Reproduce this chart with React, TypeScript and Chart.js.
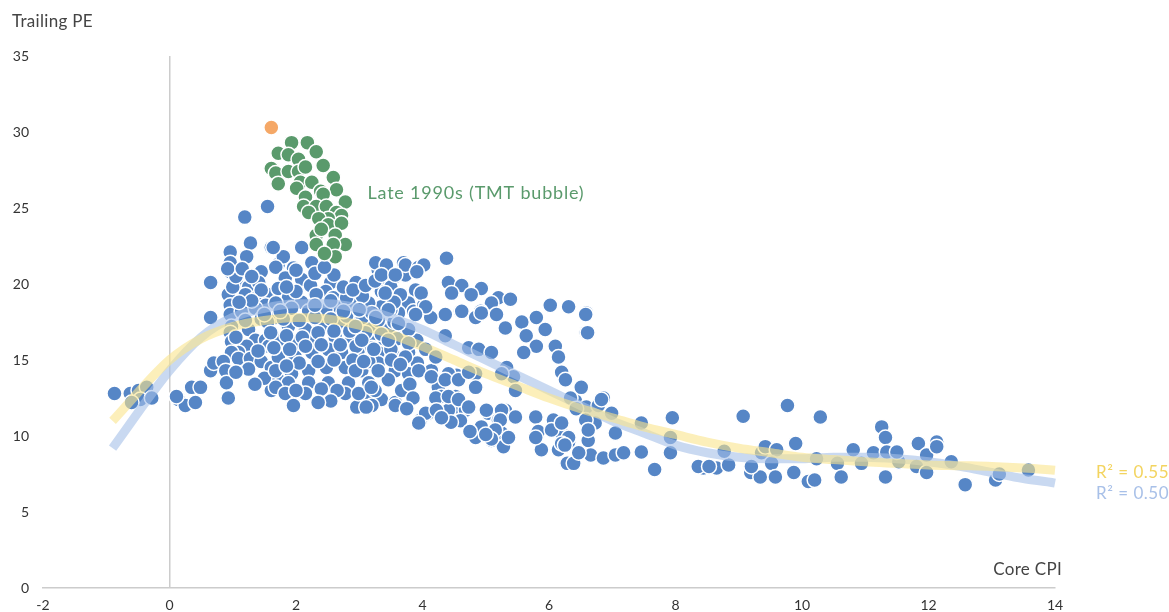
import React, { useEffect, useRef } from "react";
import { Chart, registerables } from "chart.js";

Chart.register(...registerables);

// ---- Data: [Core CPI, Trailing PE] ----
const blueLowCpi: number[][] = [
  [-0.87, 12.8], [-0.62, 12.8], [-0.49, 13.0], [-0.36, 13.2], [-0.46, 12.4], [-0.28, 12.5], [-0.6, 12.2],
  [0.14, 12.4], [0.25, 12.0], [0.41, 12.2], [0.35, 13.2], [0.49, 13.2], [0.11, 12.6], [0.65, 14.3],
  [0.7, 14.8], [0.65, 17.8], [0.65, 20.1],
];

const blueEarly: number[][] = [
  [0.96, 22.1], [1.28, 22.7], [1.61, 22.4], [0.96, 21.4], [1.22, 21.8], [0.96, 20.8], [1.45, 20.8],
  [1.72, 21.3], [1.09, 19.9], [1.25, 19.8], [1.41, 20.1], [1.2, 19.3], [1.38, 19.1], [0.93, 19.3],
  [0.96, 18.6], [1.57, 19.3], [1.52, 18.6], [0.96, 18.0], [1.14, 18.2], [1.36, 18.4], [0.98, 17.2],
  [0.96, 16.8], [1.25, 17.0], [1.36, 16.3], [0.98, 16.2], [1.52, 16.3], [1.22, 15.9], [1.57, 15.9],
  [1.09, 15.5], [0.98, 15.5], [0.85, 14.9], [0.89, 14.3], [1.09, 15.1], [1.28, 15.1], [1.45, 14.9],
  [1.61, 14.5], [1.72, 13.7], [0.9, 13.5], [0.93, 12.5], [1.61, 13.0], [1.19, 24.4], [1.55, 25.1],
  [1.0, 19.8], [1.05, 20.5], [0.92, 21.0], [1.15, 21.0], [1.3, 20.5], [1.45, 19.6], [1.3, 18.9],
  [1.1, 18.8], [1.45, 17.7], [1.2, 17.6], [1.05, 16.5], [1.4, 15.6], [1.25, 14.4], [1.05, 14.2],
  [1.5, 13.8], [1.35, 13.4],
];

const blueCore: number[][] = [
  [2.09, 22.4], [1.8, 21.8], [1.64, 22.4], [2.25, 21.4], [1.96, 21.05], [1.68, 21.1], [1.83, 20.4],
  [2.09, 20.3], [2.23, 19.9], [2.55, 20.1], [2.47, 19.5], [2.32, 19.3], [2.59, 19.1], [1.72, 19.7],
  [1.88, 19.1], [2.09, 18.8], [1.68, 18.75], [3.3, 20.9], [3.26, 21.4], [3.43, 21.25], [3.7, 21.4],
  [3.54, 20.4], [3.38, 20.1], [3.35, 19.5], [3.41, 18.9], [3.73, 20.6], [3.89, 19.6], [3.78, 18.75],
  [3.62, 18.1], [3.35, 18.5], [3.15, 18.75], [2.91, 18.6], [2.67, 18.5], [2.47, 18.3], [2.2, 18.2],
  [1.93, 18.4], [1.68, 17.8], [1.88, 17.2], [2.15, 17.0], [2.4, 17.2], [2.67, 17.4], [2.94, 17.4],
  [3.19, 17.3], [3.46, 17.0], [3.73, 16.8], [1.72, 16.3], [1.99, 16.1], [2.31, 16.3], [2.62, 16.5],
  [2.88, 16.5], [3.15, 16.3], [3.41, 16.1], [3.78, 15.5], [3.57, 15.2], [3.3, 15.5], [2.99, 15.7],
  [2.72, 15.5], [2.51, 15.7], [2.25, 15.5], [1.99, 15.2], [1.72, 15.2], [1.68, 14.3], [1.93, 14.1],
  [2.2, 14.3], [2.48, 14.5], [2.78, 14.5], [3.04, 14.3], [3.3, 14.8], [3.57, 14.3], [3.46, 13.7],
  [3.15, 13.5], [2.83, 13.5], [2.51, 13.5], [2.2, 13.5], [1.88, 13.5], [1.68, 13.2], [1.83, 12.8],
  [2.15, 12.8], [2.78, 12.8], [3.1, 12.6], [3.35, 12.4], [3.57, 12.2], [1.96, 12.0], [2.96, 11.9],
  [3.91, 16.3], [3.92, 14.8],
  [1.55, 17.5], [1.8, 17.7], [2.05, 17.6], [2.3, 17.8], [2.55, 17.7], [2.8, 17.9], [3.05, 17.8],
  [3.3, 17.6], [3.55, 17.5], [1.6, 16.8], [1.85, 16.6], [2.1, 16.5], [2.35, 16.8], [2.6, 16.9],
  [2.85, 16.9], [3.1, 16.8], [3.35, 16.7], [3.6, 16.4], [1.65, 15.8], [1.9, 15.7], [2.15, 15.9],
  [2.4, 16.0], [2.7, 16.0], [2.95, 15.9], [3.2, 15.8], [3.5, 15.7], [2.05, 14.8], [2.35, 14.9],
  [2.6, 15.0], [2.9, 15.0], [3.15, 14.9], [1.85, 14.6], [2.0, 19.5], [2.3, 18.6], [2.55, 18.9],
  [2.8, 19.1], [3.05, 19.2], [2.75, 19.8], [2.95, 20.1], [1.5, 18.0], [1.75, 18.2], [2.0, 13.0],
  [2.4, 13.1], [2.65, 13.0], [3.25, 13.0], [2.55, 12.3], [2.35, 12.2], [3.2, 12.0], [3.5, 18.3],
  [3.2, 18.1],
  [2.9, 19.6], [3.1, 19.9], [3.25, 20.2], [3.5, 19.8], [3.65, 19.3], [3.55, 18.8], [3.0, 18.3],
  [2.75, 18.2], [2.3, 20.7], [2.6, 20.6], [2.0, 20.9], [1.85, 19.8], [2.45, 21.1],
];

const blueMid: number[][] = [
  [4.38, 21.7], [3.73, 21.25], [3.94, 21.1], [4.41, 20.1], [4.62, 19.9], [4.46, 19.4], [4.93, 19.7],
  [4.77, 19.3], [5.2, 19.1], [5.39, 19.0], [5.09, 18.75], [4.6, 18.2], [4.92, 18.2], [4.36, 18.0],
  [4.84, 17.8], [5.17, 18.0], [5.31, 17.1], [4.13, 17.8], [3.86, 18.2], [4.02, 18.6], [3.98, 19.4],
  [6.02, 18.6], [6.31, 18.5], [6.59, 18.1], [6.59, 16.8], [5.8, 17.8], [5.57, 17.5], [5.64, 16.6],
  [5.94, 17.0], [6.1, 15.9], [5.8, 15.9], [5.6, 15.5], [6.15, 15.2], [6.2, 14.2], [6.26, 13.7],
  [4.36, 16.6], [4.73, 15.8], [4.89, 15.7], [5.09, 15.5], [5.33, 14.5], [5.44, 13.9], [5.25, 14.1],
  [4.84, 14.1], [4.54, 14.0], [4.41, 14.1], [4.25, 13.2], [4.14, 14.3], [3.78, 14.1], [3.67, 13.0],
  [4.52, 12.6], [4.57, 11.9], [4.68, 11.7], [4.41, 11.7], [4.3, 12.6], [4.09, 11.5], [3.97, 11.05],
  [4.21, 12.5], [5.04, 11.5], [5.31, 11.7], [5.2, 11.05], [4.84, 9.9], [5.09, 9.7], [5.25, 10.2],
  [5.28, 9.3], [4.93, 10.6], [5.79, 11.25], [5.83, 10.2], [5.88, 9.1], [6.07, 11.05], [6.2, 10.2],
  [6.31, 9.6], [6.42, 12.3], [6.15, 9.1],
  [4.02, 21.25], [3.35, 20.6], [3.57, 20.6], [3.91, 20.8], [3.41, 19.4], [4.05, 18.5], [3.89, 18.0],
  [4.62, 18.2], [4.93, 18.1], [3.78, 17.0], [3.62, 17.4], [3.46, 18.3], [3.26, 17.8], [2.94, 17.2],
  [3.04, 16.3], [3.23, 15.7], [3.46, 16.3], [3.78, 16.1], [3.51, 15.0], [3.73, 15.2], [4.05, 15.7],
  [4.21, 15.2], [3.94, 14.3], [4.14, 13.9], [4.36, 13.7], [4.57, 13.7], [4.41, 12.6], [4.57, 12.4],
  [4.73, 11.9], [4.05, 11.5], [4.22, 11.7], [3.94, 10.85], [2.99, 12.8], [3.19, 13.2], [3.57, 12.0],
  [2.94, 14.3], [3.07, 14.9], [3.3, 14.3], [3.11, 11.9], [4.73, 14.2], [4.84, 13.2], [5.01, 11.7],
  [5.25, 11.7], [5.47, 13.0], [5.83, 10.3], [6.04, 10.4], [6.2, 10.85], [6.31, 9.9], [6.2, 9.5],
  [5.23, 11.05], [5.47, 11.25], [5.79, 9.9], [5.15, 10.4], [5.36, 9.9], [5.09, 9.8],
  [3.8, 13.4], [3.65, 14.7], [3.85, 12.5], [3.75, 11.8], [4.6, 11.0], [4.45, 10.9], [4.3, 11.2],
  [4.75, 10.3], [5.0, 10.1],
];

const blueHigh: number[][] = [
  [6.58, 18.0], [6.61, 16.8], [6.51, 13.2], [6.86, 12.5], [6.59, 11.9], [6.73, 10.85], [7.05, 10.2],
  [7.46, 10.85], [7.95, 11.2], [7.92, 9.9], [7.92, 8.9], [7.46, 8.95], [7.67, 7.8], [6.62, 9.7],
  [6.66, 8.75], [6.86, 8.55], [7.05, 8.75], [7.18, 8.9], [6.29, 8.2], [6.39, 8.2], [6.34, 12.5],
  [6.43, 11.8], [6.78, 12.0], [6.25, 9.4], [6.47, 8.9], [6.58, 11.05], [6.62, 10.4], [6.83, 12.4],
  [6.99, 11.5],
  [9.07, 11.3], [9.77, 12.0], [10.29, 11.25], [8.44, 7.9], [8.65, 7.9], [8.84, 8.1], [8.77, 9.0],
  [9.19, 7.6], [9.36, 8.9], [9.42, 9.3], [9.6, 9.1], [9.52, 8.2], [9.34, 7.3], [9.58, 7.3], [9.9, 9.5],
  [9.87, 7.6], [10.1, 7.0], [10.2, 7.1], [10.23, 8.5], [10.56, 8.2], [10.62, 7.3], [10.81, 9.1],
  [10.94, 8.2], [11.13, 8.9], [11.26, 10.6], [11.32, 9.9], [11.34, 8.95], [11.32, 7.3], [11.53, 8.3],
  [11.5, 8.95], [11.84, 9.5], [11.81, 8.0], [11.97, 7.6], [11.97, 8.75], [12.13, 9.6], [12.13, 9.3],
  [12.36, 8.3], [12.58, 6.8], [13.06, 7.1], [13.12, 7.5], [13.58, 7.76], [8.36, 8.0], [8.53, 8.0],
  [9.2, 8.0],
];

const greenBubble: number[][] = [
  [1.93, 29.3], [2.18, 29.3], [2.32, 28.7], [1.72, 28.6], [1.88, 28.5], [2.04, 28.2], [2.43, 27.8],
  [1.61, 27.6], [1.68, 27.3], [1.88, 27.4], [2.04, 27.4], [2.15, 27.7], [1.72, 26.6], [2.07, 26.7],
  [2.25, 26.7], [2.59, 27.0], [2.01, 26.3], [2.39, 26.1], [2.64, 26.2], [2.15, 25.7], [2.43, 25.9],
  [2.78, 25.4], [2.12, 25.1], [2.32, 25.1], [2.48, 25.1], [2.64, 24.7], [2.72, 24.5], [2.2, 24.7],
  [2.51, 24.3], [2.36, 24.3], [2.51, 23.9], [2.72, 24.0], [2.32, 23.2], [2.62, 23.2], [2.78, 22.6],
  [2.32, 22.6], [2.59, 22.6], [2.62, 21.8], [2.45, 22.0], [2.4, 23.6],
];

const orangePeak: number[][] = [[1.61, 30.3]];

const fitYellow: number[][] = [
  [-0.9, 11.0], [0, 15.0], [0.5, 16.4], [1, 17.2], [1.5, 17.6], [2, 17.8], [2.5, 17.7], [3, 17.3],
  [3.5, 16.7], [4, 15.9], [4.5, 15.0], [5, 14.1], [5.5, 13.3], [6, 12.5], [6.5, 11.8], [7, 11.2],
  [7.5, 10.6], [8, 10.1], [8.5, 9.6], [9, 9.2], [9.5, 8.9], [10, 8.6], [10.5, 8.45], [11, 8.3],
  [11.5, 8.2], [12, 8.1], [12.5, 8.05], [13, 8.0], [13.5, 7.9], [14, 7.75], [14.3, 7.6],
];

const fitBlue: number[][] = [
  [-0.9, 9.2], [0, 14.3], [0.5, 16.5], [1, 17.8], [1.5, 18.4], [2, 18.7], [2.5, 18.7], [3, 18.4],
  [3.5, 17.8], [4, 17.0], [4.5, 16.0], [5, 15.0], [5.5, 14.0], [6, 13.0], [6.5, 12.0], [7, 11.0],
  [7.5, 10.2], [8, 9.4], [8.5, 8.9], [9, 8.6], [9.5, 8.5], [10, 8.5], [10.5, 8.6], [11, 8.6],
  [11.5, 8.5], [12, 8.3], [12.5, 8.0], [13, 7.6], [13.5, 7.2], [14, 6.9], [14.3, 6.6],
];

const xTickValues = [-2, 0, 2, 4, 6, 8, 10, 12, 14];
const yTickValues = [0, 5, 10, 15, 20, 25, 30, 35];

const yAxisTitle = "Trailing PE";
const xAxisTitle = "Core CPI";
const bubbleNote = "Late 1990s (TMT bubble)";
const r2Yellow = "R² = 0.55";
const r2Blue = "R² = 0.50";

const FONT = "Lato, 'Open Sans', sans-serif";

const toXY = (arr: number[][]) => arr.map(([x, y]) => ({ x, y }));

const textPlugin = {
  id: "textPlugin",
  afterDatasetsDraw(chart: any) {
    const { ctx, chartArea, scales } = chart;
    const x = scales.x;
    const y = scales.y;
    ctx.save();
    ctx.textBaseline = "middle";
    ctx.font = `17px ${FONT}`;
    (ctx as any).letterSpacing = "0.3px";
    ctx.fillStyle = "#444444";
    ctx.textAlign = "left";
    ctx.fillText(yAxisTitle, 12, 22);
    ctx.textAlign = "right";
    ctx.fillText(xAxisTitle, chartArea.right + 7, chartArea.bottom - 18);
    ctx.textAlign = "left";
    ctx.font = `18px ${FONT}`;
    (ctx as any).letterSpacing = "0.8px";
    ctx.fillStyle = "#5a9a6c";
    ctx.fillText(bubbleNote, x.getPixelForValue(3.13), y.getPixelForValue(26.0));
    ctx.font = `17px ${FONT}`;
    (ctx as any).letterSpacing = "0.5px";
    ctx.fillStyle = "#f3d45f";
    ctx.fillText(r2Yellow, chartArea.right + 41, y.getPixelForValue(7.6));
    ctx.fillStyle = "#a8c0e8";
    ctx.fillText(r2Blue, chartArea.right + 41, y.getPixelForValue(6.2));
    ctx.restore();
  },
};

export default function App() {
  const canvasRef = useRef<HTMLCanvasElement | null>(null);

  useEffect(() => {
    document.body.style.margin = "0";
    const canvas = canvasRef.current;
    if (!canvas) return;
    const pointStyle = {
      pointRadius: 7.5,
      pointHoverRadius: 7.5,
      pointBorderColor: "#ffffff",
      pointBorderWidth: 1.5,
      showLine: false,
    };
    const blueAll = [...blueLowCpi, ...blueEarly, ...blueCore, ...blueMid, ...blueHigh];
    const chart = new Chart(canvas, {
      type: "scatter",
      data: {
        datasets: [
          {
            label: "Yellow fit",
            data: toXY(fitYellow),
            showLine: true,
            borderColor: "rgba(250, 228, 140, 0.6)",
            borderWidth: 9,
            pointRadius: 0,
            tension: 0.4,
            cubicInterpolationMode: "monotone",
            clip: false,
            order: 0,
          } as any,
          {
            label: "Blue fit",
            data: toXY(fitBlue),
            showLine: true,
            borderColor: "rgba(165, 192, 232, 0.6)",
            borderWidth: 9,
            pointRadius: 0,
            tension: 0.4,
            cubicInterpolationMode: "monotone",
            clip: false,
            order: 1,
          } as any,
          {
            label: "Orange",
            data: toXY(orangePeak),
            backgroundColor: "#f5a867",
            ...pointStyle,
            order: 2,
          } as any,
          {
            label: "Green",
            data: toXY(greenBubble),
            backgroundColor: "#5a9a6c",
            ...pointStyle,
            order: 3,
          } as any,
          {
            label: "Blue",
            data: toXY(blueAll),
            backgroundColor: "#5686c6",
            ...pointStyle,
            order: 4,
          } as any,
        ],
      },
      options: {
        responsive: false,
        animation: false,
        devicePixelRatio: 1,
        layout: { padding: { left: 0, top: 56, right: 114, bottom: 0 } },
        plugins: { legend: { display: false }, tooltip: { enabled: false } },
        scales: {
          x: {
            type: "linear",
            min: -2,
            max: 14,
            afterFit: (s: any) => {
              s.height = 24;
            },
            afterBuildTicks: (s: any) => {
              s.ticks = xTickValues.map((v) => ({ value: v }));
            },
            ticks: {
              padding: 9,
              color: "#333333",
              font: { family: FONT, size: 14 },
              maxRotation: 0,
            },
            grid: {
              drawTicks: false,
              color: (c: any) => (c.tick && c.tick.value === 0 ? "#cccccc" : "rgba(0,0,0,0)"),
              lineWidth: 1.5,
            },
            border: { display: true, color: "#cccccc", width: 1.5 },
          },
          y: {
            type: "linear",
            min: 0,
            max: 35,
            afterFit: (s: any) => {
              s.width = 43;
            },
            afterBuildTicks: (s: any) => {
              s.ticks = yTickValues.map((v) => ({ value: v }));
            },
            ticks: {
              padding: 14,
              color: "#333333",
              font: { family: FONT, size: 14 },
            },
            grid: { display: false, drawTicks: false },
            border: { display: false },
          },
        },
      },
      plugins: [textPlugin],
    });
    return () => chart.destroy();
  }, []);

  return (
    <div style={{ width: 1169, height: 612, background: "#ffffff" }}>
      <canvas ref={canvasRef} width={1169} height={612} style={{ display: "block" }} />
    </div>
  );
}
